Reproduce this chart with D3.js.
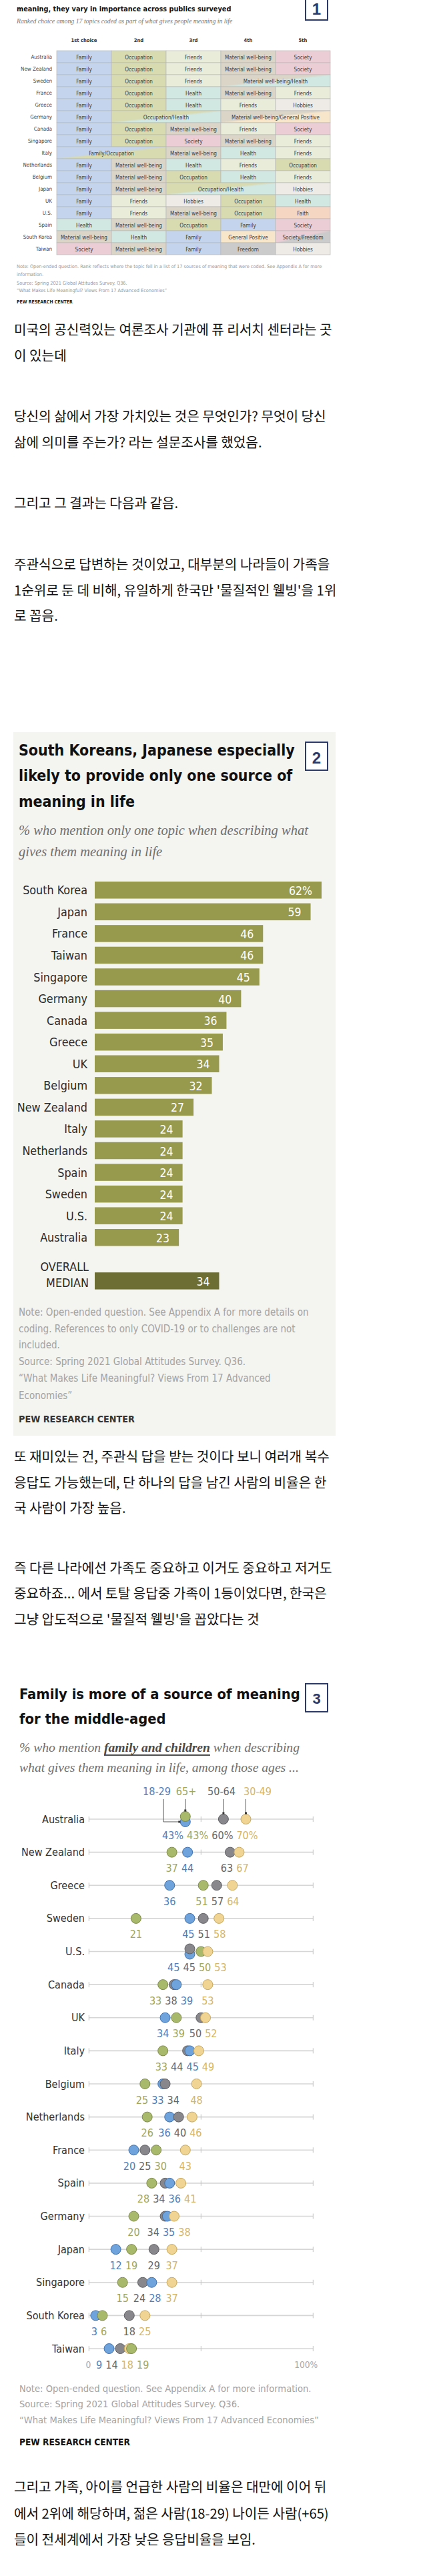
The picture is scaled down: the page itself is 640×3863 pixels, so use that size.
<!DOCTYPE html>
<html><head><meta charset="utf-8">
<script src="https://cdn.jsdelivr.net/npm/d3@7"></script>
<style>
html,body{margin:0;padding:0;background:#fff;}
svg{display:block;}
</style></head><body>
<script>
// ================= DATA =================
// Chart 1: ranked topics
const rankHeaders = ["1st choice", "2nd", "3rd", "4th", "5th"];
const rankCountries = ["Australia","New Zealand","Sweden","France","Greece","Germany","Canada","Singapore","Italy","Netherlands","Belgium","Japan","UK","U.S.","Spain","South Korea","Taiwan"];
const rankTopics = [
  ["Family","Occupation","Friends","Material well-being","Society"],
  ["Family","Occupation","Friends","Material well-being","Society"],
  ["Family","Occupation","Friends","Material well-being/Health","Material well-being/Health"],
  ["Family","Occupation","Health","Material well-being","Friends"],
  ["Family","Occupation","Health","Friends","Hobbies"],
  ["Family","Occupation/Health","Occupation/Health","Material well-being/General Positive","Material well-being/General Positive"],
  ["Family","Occupation","Material well-being","Friends","Society"],
  ["Family","Occupation","Society","Material well-being","Friends"],
  ["Family/Occupation","Family/Occupation","Material well-being","Health","Friends"],
  ["Family","Material well-being","Health","Friends","Occupation"],
  ["Family","Material well-being","Occupation","Health","Friends"],
  ["Family","Material well-being","Occupation/Health","Occupation/Health","Hobbies"],
  ["Family","Friends","Hobbies","Occupation","Health"],
  ["Family","Friends","Material well-being","Occupation","Faith"],
  ["Health","Material well-being","Occupation","Family","Society"],
  ["Material well-being","Health","Family","General Positive","Society/Freedom"],
  ["Society","Material well-being","Family","Freedom","Hobbies"]
];
// Chart 2: only one source of meaning
const oneCountries = ["South Korea","Japan","France","Taiwan","Singapore","Germany","Canada","Greece","UK","Belgium","New Zealand","Italy","Netherlands","Spain","Sweden","U.S.","Australia"];
const oneValues = [62,59,46,46,45,40,36,35,34,32,27,24,24,24,24,24,23];
const oneMedian = 34;
// Chart 3: family and children by age
const ageCountries = ["Australia","New Zealand","Greece","Sweden","U.S.","Canada","UK","Italy","Belgium","Netherlands","France","Spain","Germany","Japan","Singapore","South Korea","Taiwan"];
const ageGroups = ["18-29","30-49","50-64","65+"];
const age18_29 = [43,44,36,45,45,39,34,45,33,36,20,36,35,12,28,3,9];
const age30_49 = [70,67,64,58,53,53,52,49,48,46,43,41,38,37,37,25,18];
const age50_64 = [60,63,57,51,45,38,50,44,34,40,25,34,34,29,24,18,14];
const age65p   = [43,37,51,21,50,33,39,33,25,26,30,28,20,19,15,6,19];
const ageTicks = [0,50,100];

// ================= STYLE =================
const topicColor = {
  "Family":"#c3d4ec","Occupation":"#d8dab0","Friends":"#e9ecd9","Material well-being":"#dbd5c7",
  "Health":"#d0e7e2","Society":"#ebced5","Hobbies":"#eeebe6","General Positive":"#f8e6cb",
  "Faith":"#f4d6c3","Freedom":"#cbcbcb"
};
const ageFill = {"18-29":"#6fa3dc","30-49":"#efd493","50-64":"#88888c","65+":"#a9b96b"};
const ageStroke = {"18-29":"#3e70ad","30-49":"#c8a75a","50-64":"#5e5e62","65+":"#7d8a48"};
const ageText = {"18-29":"#4f80bb","30-49":"#d6b665","50-64":"#666666","65+":"#9fa75a"};

const SANS = "'Liberation Sans Narrow','Arial Narrow','DejaVu Sans Condensed','Roboto Condensed','Liberation Sans',sans-serif";
const SERIF = "'Liberation Serif','DejaVu Serif',Georgia,serif";
const KR = "'Noto Sans CJK KR','Noto Sans KR',sans-serif";

const W = 640, H = 3863;
const svg = d3.select("body").append("svg").attr("width", W).attr("height", H);
const defs = svg.append("defs");

function txt(g, x, y, s, o) {
  o = o || {};
  const t = g.append("text").attr("x", x).attr("y", y)
    .attr("font-family", o.ff || SANS).attr("font-size", o.fs || 12)
    .attr("fill", o.fill || "#222").attr("dominant-baseline", "central")
    .attr("text-anchor", o.anchor || "start").text(s);
  if (o.fw) t.attr("font-weight", o.fw);
  if (o.fst) t.attr("font-style", o.fst);
  return t;
}
// scale font size of all texts in group so that the reference text has target width
function fitBlock(texts, ref, target) {
  const len = ref.node().getComputedTextLength();
  const k = target / len;
  texts.forEach(t => t.attr("font-size", parseFloat(t.attr("font-size")) * k));
}
function para(lines, ys) {
  return lines.map((l, i) => txt(svg, 21, ys[i], l, {ff: KR, fs: 19, fill: "#111"}));
}

// ================= CHART 1 (table) =================
{
  const g = svg.append("g");
  const t1 = txt(g, 25, 13, "meaning, they vary in importance across publics surveyed", {fs: 16, fw: "bold", fill: "#111"});
  fitBlock([t1], t1, 322);
  const st = txt(g, 25, 31, "Ranked choice among 17 topics coded as part of what gives people meaning in life", {ff: SERIF, fs: 10, fst: "italic", fill: "#777"});
  fitBlock([st], st, 324);
  g.append("rect").attr("x", 458).attr("y", -4).attr("width", 33).attr("height", 34)
    .attr("fill", "#fff").attr("stroke", "#2b3a68").attr("stroke-width", 2);
  txt(g, 474.5, 13, "1", {fs: 24, fw: "bold", fill: "#2b3a68", anchor: "middle", ff: "'Liberation Sans',sans-serif"});

  const tx = d3.scaleBand().domain(d3.range(5)).range([85, 495]);
  const ty = d3.scaleBand().domain(rankCountries).range([76, 382]);

  const hs = rankHeaders.map((h, i) => txt(g, tx(i) + tx.bandwidth() / 2, 60, h, {fs: 10, fw: "bold", fill: "#333", anchor: "middle"}));
  fitBlock(hs, hs[0], 39);

  // gradients for ties
  const combos = new Set();
  rankTopics.forEach(r => r.forEach(t => { if (t.includes("/")) combos.add(t); }));
  const gid = t => "g" + t.replace(/[^A-Za-z]/g, "");
  combos.forEach(c => {
    const [a, b] = c.split("/");
    const lg = defs.append("linearGradient").attr("id", gid(c))
      .attr("x1", 0).attr("y1", 0).attr("x2", 1).attr("y2", 1);
    lg.append("stop").attr("offset", "0%").attr("stop-color", topicColor[a]);
    lg.append("stop").attr("offset", "46%").attr("stop-color", topicColor[a]);
    lg.append("stop").attr("offset", "54%").attr("stop-color", topicColor[b]);
    lg.append("stop").attr("offset", "100%").attr("stop-color", topicColor[b]);
  });

  const cellTexts = [], countryTexts = [];
  let refCell = null, refCountry = null;
  rankCountries.forEach((c, ri) => {
    const ct = txt(g, 78, ty(c) + ty.bandwidth() / 2, c, {fs: 9, fill: "#444", anchor: "end"});
    countryTexts.push(ct);
    if (c === "New Zealand") refCountry = ct;
    const topics = rankTopics[ri];
    const spans = [];
    topics.forEach((t, i) => {
      if (spans.length && spans[spans.length - 1].t === t) spans[spans.length - 1].n++;
      else spans.push({t, s: i, n: 1});
    });
    spans.forEach(sp => {
      g.append("rect").attr("x", tx(sp.s)).attr("y", ty(c))
        .attr("width", tx.step() * sp.n).attr("height", ty.bandwidth())
        .attr("fill", sp.t.includes("/") ? `url(#${gid(sp.t)})` : topicColor[sp.t])
        .attr("stroke", "#b9b9b9").attr("stroke-width", 0.7);
      const tt = txt(g, tx(sp.s) + tx.step() * sp.n / 2, ty(c) + ty.bandwidth() / 2 + 0.5, sp.t, {fs: 9, fill: "#3d3d3d", anchor: "middle"});
      cellTexts.push(tt);
      if (!refCell && sp.t === "Material well-being") refCell = tt;
    });
  });
  fitBlock(cellTexts, refCell, 70);
  fitBlock(countryTexts, refCountry, 47);

  const n1 = txt(g, 25, 399, "Note: Open-ended question. Rank reflects where the topic fell in a list of 17 sources of meaning that were coded. See Appendix A for more", {fs: 8, fill: "#999"});
  const n2 = txt(g, 25, 411, "information.", {fs: 8, fill: "#999"});
  const n3 = txt(g, 25, 424, "Source: Spring 2021 Global Attitudes Survey. Q36.", {fs: 8, fill: "#999"});
  const n4 = txt(g, 25, 435, "\u201CWhat Makes Life Meaningful? Views From 17 Advanced Economies\u201D", {fs: 8, fill: "#999"});
  fitBlock([n1, n2, n3, n4], n1, 458);
  const p = txt(g, 25, 453, "PEW RESEARCH CENTER", {fs: 8, fw: "bold", fill: "#222"});
  fitBlock([p], p, 84);
}

// ================= TEXT BLOCKS =================
const krAll = [];
function addPara(lines, ys) { const t = para(lines, ys); krAll.push(...t); return t; }
const krRef = addPara(["미국의 공신력있는 여론조사 기관에 퓨 리서치 센터라는 곳", "이 있는데"], [493, 532])[0];
addPara(["당신의 삶에서 가장 가치있는 것은 무엇인가? 무엇이 당신", "삶에 의미를 주는가? 라는 설문조사를 했었음."], [623, 662]);
addPara(["그리고 그 결과는 다음과 같음."], [753]);
addPara(["주관식으로 답변하는 것이었고, 대부분의 나라들이 가족을", "1순위로 둔 데 비해, 유일하게 한국만 '물질적인 웰빙'을 1위", "로 꼽음."], [845, 884, 922]);
addPara(["또 재미있는 건, 주관식 답을 받는 것이다 보니 여러개 복수", "응답도 가능했는데, 단 하나의 답을 남긴 사람의 비율은 한", "국 사람이 가장 높음."], [2183, 2222, 2260]);
addPara(["즉 다른 나라에선 가족도 중요하고 이거도 중요하고 저거도", "중요하죠... 에서 토탈 응답중 가족이 1등이었다면, 한국은", "그냥 압도적으로 '물질적 웰빙'을 꼽았다는 것"], [2350, 2388, 2427]);
addPara(["그리고 가족, 아이를 언급한 사람의 비율은 대만에 이어 뒤", "에서 2위에 해당하며, 젊은 사람(18-29) 나이든 사람(+65)", "들이 전세계에서 가장 낮은 응답비율을 보임."], [3728, 3768, 3807]);
fitBlock(krAll, krRef, 477);

// ================= CHART 2 (bars) =================
{
  const g = svg.append("g");
  g.append("rect").attr("x", 20).attr("y", 1098).attr("width", 483).attr("height", 1055).attr("fill", "#f4f4f0");
  const tl = ["South Koreans, Japanese especially", "likely to provide only one source of", "meaning in life"]
    .map((s, i) => txt(g, 28, [1125, 1163, 1202][i], s, {fs: 27, fw: "bold", fill: "#111"}));
  fitBlock(tl, tl[0], 414);
  g.append("rect").attr("x", 458).attr("y", 1113).attr("width", 33).attr("height", 42)
    .attr("fill", "#fff").attr("stroke", "#2b3a68").attr("stroke-width", 2);
  txt(g, 474.5, 1136, "2", {fs: 24, fw: "bold", fill: "#2b3a68", anchor: "middle", ff: "'Liberation Sans',sans-serif"});
  const sl = ["% who mention only one topic when describing what", "gives them meaning in life"]
    .map((s, i) => txt(g, 28, [1245, 1277][i], s, {ff: SERIF, fs: 21, fst: "italic", fill: "#6f6f6f"}));
  fitBlock(sl, sl[0], 434);

  const x = d3.scaleLinear().domain([0, 62]).range([142, 482]);
  const step = 32.56;
  const y = d3.scaleBand().domain(oneCountries).range([1318.5, 1318.5 + oneCountries.length * step])
    .paddingInner(0.217).paddingOuter(0.1085);
  const labels = [], vals = [];
  oneCountries.forEach((c, i) => {
    g.append("rect").attr("x", x(0)).attr("y", y(c)).attr("width", x(oneValues[i]) - x(0))
      .attr("height", y.bandwidth()).attr("fill", "#97994c");
    labels.push(txt(g, 131, y(c) + y.bandwidth() / 2, c, {fs: 20, fill: "#2a2a2a", anchor: "end"}));
    vals.push(txt(g, x(oneValues[i]) - 14, y(c) + y.bandwidth() / 2 + 1, oneValues[i] + (i === 0 ? "%" : ""), {fs: 20, fill: "#fff", anchor: "end"}));
  });
  const my = y(oneCountries[oneCountries.length - 1]) + 2 * step;
  g.append("rect").attr("x", x(0)).attr("y", my).attr("width", x(oneMedian) - x(0))
    .attr("height", y.bandwidth()).attr("fill", "#6c6e33");
  labels.push(txt(g, 133, my - 9, "OVERALL", {fs: 20, fill: "#2a2a2a", anchor: "end"}));
  labels.push(txt(g, 133, my + 15, "MEDIAN", {fs: 20, fill: "#2a2a2a", anchor: "end"}));
  vals.push(txt(g, x(oneMedian) - 14, my + y.bandwidth() / 2 + 1, oneMedian, {fs: 20, fill: "#fff", anchor: "end"}));
  fitBlock(labels, labels[0], 97);
  fitBlock(vals, vals[0], 35);

  const nl = ["Note: Open-ended question. See Appendix A for more details on",
    "coding. References to only COVID-19 or to challenges are not",
    "included.",
    "Source: Spring 2021 Global Attitudes Survey. Q36.",
    "\u201CWhat Makes Life Meaningful? Views From 17 Advanced",
    "Economies\u201D"].map((s, i) => txt(g, 28, [1968, 1993, 2017, 2042, 2067, 2093][i], s, {fs: 17, fill: "#a3a3a3"}));
  fitBlock(nl, nl[0], 435);
  const p = txt(g, 28, 2128, "PEW RESEARCH CENTER", {fs: 17, fw: "bold", fill: "#333"});
  fitBlock([p], p, 174);
}

// ================= CHART 3 (dots) =================
{
  const g = svg.append("g");
  const tl = ["Family is more of a source of meaning", "for the middle-aged"]
    .map((s, i) => txt(g, 29, [2540, 2577][i], s, {fs: 27, fw: "bold", fill: "#111"}));
  fitBlock(tl, tl[0], 421);
  g.append("rect").attr("x", 458).attr("y", 2525).attr("width", 33).attr("height", 42)
    .attr("fill", "#fff").attr("stroke", "#2b3a68").attr("stroke-width", 2);
  txt(g, 474.5, 2547, "3", {fs: 22, fw: "bold", fill: "#2b3a68", anchor: "middle", ff: "'Liberation Sans',sans-serif"});

  const s1 = g.append("text").attr("x", 29).attr("y", 2620).attr("font-family", SERIF).attr("font-size", 21)
    .attr("font-style", "italic").attr("fill", "#6f6f6f").attr("dominant-baseline", "central");
  s1.append("tspan").text("% who mention ");
  s1.append("tspan").attr("font-weight", "bold").attr("fill", "#4a4a4a").style("text-decoration", "underline").text("family and children");
  s1.append("tspan").text(" when describing");
  const s2 = txt(g, 29, 2650, "what gives them meaning in life, among those ages ...", {ff: SERIF, fs: 21, fst: "italic", fill: "#6f6f6f"});
  fitBlock([s1, s2], s2, 419);

  const x = d3.scaleLinear().domain([0, 100]).range([133.3, 469.3]);
  const y = d3.scalePoint().domain(ageCountries).range([2728, 3522]);
  const series = {"18-29": age18_29, "30-49": age30_49, "50-64": age50_64, "65+": age65p};
  const r = 7.5;

  const labelsC = [];
  ageCountries.forEach(c => {
    g.append("line").attr("x1", x(0)).attr("x2", x(100)).attr("y1", y(c)).attr("y2", y(c))
      .attr("stroke", "#d6d6d6").attr("stroke-width", 1.6);
    ageTicks.forEach(t => g.append("line").attr("x1", x(t)).attr("x2", x(t)).attr("y1", y(c) - 4).attr("y2", y(c) + 4)
      .attr("stroke", "#c4c4c4").attr("stroke-width", 1));
    labelsC.push(txt(g, 127, y(c), c, {fs: 20, fill: "#333", anchor: "end"}));
  });
  fitBlock(labelsC, labelsC[0], 64);
  const lfs = parseFloat(labelsC[0].attr("font-size"));

  ageCountries.forEach((c, ci) => {
    const pts = ageGroups.map((a, ai) => ({a, ai, v: series[a][ci]}));
    pts.sort((p, q) => p.v - q.v || p.ai - q.ai);
    pts.forEach(p => {
      p.dy = 0;
      const tie = pts.filter(q => q.v === p.v);
      if (tie.length > 1) p.dy = (tie[0] === p) ? 4 : -4;
    });
    pts.forEach(p => {
      g.append("circle").attr("cx", x(p.v)).attr("cy", y(c) + p.dy).attr("r", r)
        .attr("fill", ageFill[p.a]).attr("stroke", ageStroke[p.a]).attr("stroke-width", 1);
    });
    const items = pts.map(p => {
      const t = txt(g, x(p.v), y(c) + 24, p.v + (ci === 0 ? "%" : ""), {fs: lfs, fill: ageText[p.a], anchor: "middle"});
      return {t, x: x(p.v), w: t.node().getComputedTextLength()};
    });
    const gap = 5;
    let clusters = items.map(it => ({its: [it]}));
    const layout = cl => {
      const tot = d3.sum(cl.its, d => d.w) + gap * (cl.its.length - 1);
      const cx = d3.mean(cl.its, d => d.x);
      cl.left = cx - tot / 2; cl.right = cx + tot / 2;
    };
    clusters.forEach(layout);
    let changed = true;
    while (changed) {
      changed = false;
      for (let i = 0; i < clusters.length - 1; i++) {
        if (clusters[i].right + gap > clusters[i + 1].left) {
          clusters[i].its = clusters[i].its.concat(clusters[i + 1].its);
          clusters.splice(i + 1, 1);
          layout(clusters[i]);
          changed = true; break;
        }
      }
    }
    clusters.forEach(cl => {
      let cur = cl.left;
      cl.its.forEach(it => { it.t.attr("x", cur + it.w / 2); cur += it.w + gap; });
    });
  });

  txt(g, x(0) - 1, y(ageCountries[ageCountries.length - 1]) + 24, "0", {fs: lfs * 0.85, fill: "#aaa", anchor: "middle"});
  txt(g, x(100) + 7, y(ageCountries[ageCountries.length - 1]) + 24, "100%", {fs: lfs * 0.85, fill: "#aaa", anchor: "end"});

  const ly = 2686;
  const c0 = ageCountries[0];
  const leg = [
    {a: "18-29", lx: 235},
    {a: "65+", lx: 279},
    {a: "50-64", lx: 332},
    {a: "30-49", lx: 386}
  ];
  leg.forEach(l => txt(g, l.lx, ly, l.a, {fs: lfs, fill: ageText[l.a], anchor: "middle"}));
  const lineTop = 2698;
  const dotY = a => {
    const v = series[a][0];
    const tie = ageGroups.filter(b => series[b][0] === v);
    if (tie.length > 1) return y(c0) + (a === "18-29" ? 4 : -4);
    return y(c0);
  };
  const bx = x(series["18-29"][0]) - r;
  g.append("path").attr("d", `M245,${lineTop}V${dotY("18-29")}H${bx}`)
    .attr("fill", "none").attr("stroke", "#555").attr("stroke-width", 1);
  g.append("rect").attr("x", bx - 3).attr("y", dotY("18-29") - 1.5).attr("width", 3).attr("height", 3).attr("fill", "#333");
  ["65+", "50-64", "30-49"].forEach(a => {
    const xx = x(series[a][0]);
    const yb = dotY(a) - r;
    g.append("line").attr("x1", xx).attr("x2", xx).attr("y1", lineTop).attr("y2", yb)
      .attr("stroke", "#555").attr("stroke-width", 1);
    g.append("rect").attr("x", xx - 1.5).attr("y", yb - 3).attr("width", 3).attr("height", 3).attr("fill", "#333");
  });

  const nl = ["Note: Open-ended question. See Appendix A for more information.",
    "Source: Spring 2021 Global Attitudes Survey. Q36.",
    "\u201CWhat Makes Life Meaningful? Views From 17 Advanced Economies\u201D"]
    .map((s, i) => txt(g, 29, [3581, 3604, 3628][i], s, {fs: 16, fill: "#a3a3a3"}));
  fitBlock(nl, nl[2], 449);
  const p = txt(g, 29, 3662, "PEW RESEARCH CENTER", {fs: 16, fw: "bold", fill: "#111"});
  fitBlock([p], p, 166);
}
</script>
</body></html>
